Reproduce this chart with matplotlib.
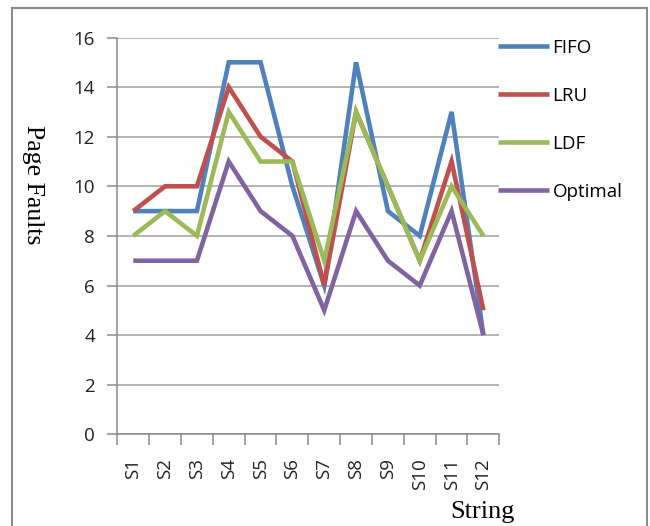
import matplotlib
matplotlib.use("Agg")
import matplotlib.pyplot as plt
import numpy as np
from matplotlib.patches import Rectangle

# page faults per reference string, one list per replacement policy
strings = ["S1", "S2", "S3", "S4", "S5", "S6", "S7", "S8", "S9", "S10", "S11", "S12"]
fifo    = [9, 9, 9, 15, 15, 10, 6, 15, 9, 8, 13, 4]
lru     = [9, 10, 10, 14, 12, 11, 6, 13, 10, 7, 11, 5]
ldf     = [8, 9, 8, 13, 11, 11, 7, 13, 10, 7, 10, 8]
optimal = [7, 7, 7, 11, 9, 8, 5, 9, 7, 6, 9, 4]

series = [
    ("FIFO", fifo, "#4F81BD"),
    ("LRU", lru, "#C0504D"),
    ("LDF", ldf, "#9BBB59"),
    ("Optimal", optimal, "#8064A2"),
]

SANS = ["Open Sans", "DejaVu Sans"]
SERIF = ["Liberation Serif", "DejaVu Serif"]
GRID = "#a0a0a0"

fig = plt.figure(figsize=(6.5, 5.26), dpi=100)
ax = fig.add_axes([0.1805, 0.1743, 0.5877, 0.7544])

x = np.arange(len(strings))
for name, vals, col in series:
    ax.plot(x, vals, color=col, lw=3.3, label=name,
            solid_joinstyle="miter", solid_capstyle="butt")

ax.set_xlim(-0.5, len(strings) - 0.5)
ax.set_ylim(0, 16)
ax.set_yticks(np.arange(0, 17, 2))
ax.grid(axis="y", color=GRID, lw=1.1)
ax.set_axisbelow(True)

for s in ("top", "right"):
    ax.spines[s].set_visible(False)
for s in ("left", "bottom"):
    ax.spines[s].set_color("#8a8a8a")
    ax.spines[s].set_linewidth(1.1)

ax.set_xticks(x)
ax.set_xticklabels(strings, rotation=90, family=SANS, fontsize=13.5, color="#222")
ax.set_xticks(np.arange(-0.5, len(strings)), minor=True)
ax.tick_params(axis="x", which="major", length=0, pad=17)
ax.tick_params(axis="x", which="minor", length=8, color="#8a8a8a", width=1.1)
ax.tick_params(axis="y", length=7, color="#8a8a8a", width=1.1, pad=9)
for t in ax.get_yticklabels():
    t.set_family(SANS)
    t.set_fontsize(13.5)
    t.set_color("#222")

fig.text(0.05, 0.649, "Page Faults", rotation=-90, ha="center", va="center",
         family=SERIF, fontsize=18.5)
fig.text(0.742, 0.027, "String", ha="center", va="center",
         family=SERIF, fontsize=19)

leg = ax.legend(loc="upper left", bbox_to_anchor=(0.755, 0.94),
                bbox_transform=fig.transFigure, frameon=False,
                prop={"family": SANS, "size": 13.5}, handlelength=2.7,
                handletextpad=0.2, labelspacing=1.6, borderaxespad=0)
for h in leg.get_lines():
    h.set_linewidth(3.3)

# outer chart frame
fig.patches.append(Rectangle((12 / 650, -0.1), 635 / 650, 1.1 - 8 / 526,
                             transform=fig.transFigure, fill=False,
                             edgecolor="#8c8c8c", lw=1.5))

fig.savefig("out.png", dpi=100)
